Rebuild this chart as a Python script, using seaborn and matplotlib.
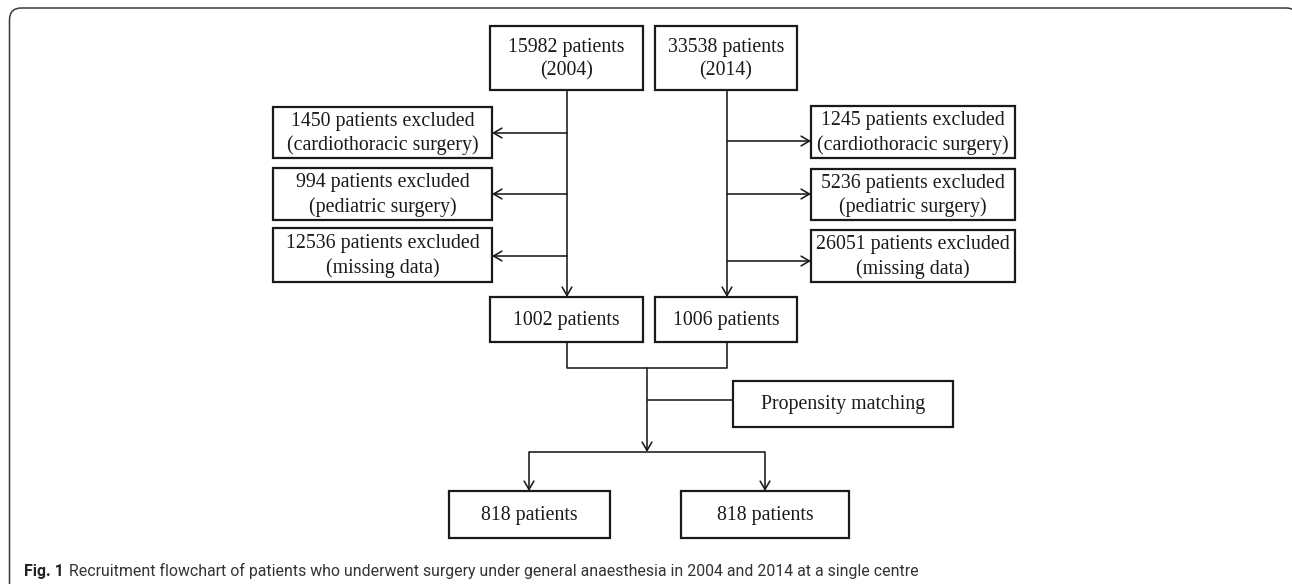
import matplotlib
matplotlib.use("Agg")
import matplotlib.pyplot as plt
import seaborn as sns
from matplotlib.patches import Rectangle, FancyArrowPatch, PathPatch
from matplotlib.path import Path

sns.set_theme(style="white")
plt.rcParams['font.family'] = ['Liberation Serif', 'DejaVu Serif']

# ---- data ----
start_counts = [15982, 33538]
start_years = ["2004", "2014"]
excl_2004 = [1450, 994, 12536]
excl_2014 = [1245, 5236, 26051]
excl_reasons = ["cardiothoracic surgery", "pediatric surgery", "missing data"]
included = [1002, 1006]
matched = [818, 818]
match_label = "Propensity matching"
caption_bold = "Fig. 1"
caption_text = ("Recruitment flowchart of patients who underwent surgery under general "
                "anaesthesia in 2004 and 2014 at a single centre")

W, H = 1292, 584
fig = plt.figure(figsize=(W / 100, H / 100), dpi=100)
ax = fig.add_axes([0, 0, 1, 1])
ax.set_xlim(0, W)
ax.set_ylim(H, 0)
ax.axis("off")

FS = 14.3
BOX_LW = 1.6
LINE_LW = 1.15
INK = "#1a1a1a"


def box(x0, y0, x1, y1, text):
    ax.add_patch(Rectangle((x0, y0), x1 - x0, y1 - y0, fill=False,
                           edgecolor=INK, lw=BOX_LW))
    ax.text((x0 + x1) / 2, (y0 + y1) / 2 + 1, text, ha="center", va="center",
            fontsize=FS, color=INK, linespacing=1.32)


def line(xs, ys):
    ax.plot(xs, ys, color=INK, lw=LINE_LW, solid_capstyle="butt")


def arrow(x0, y0, x1, y1):
    ax.add_patch(FancyArrowPatch((x0, y0), (x1, y1),
                                 arrowstyle="->,head_length=0.6,head_width=0.35",
                                 mutation_scale=10, shrinkA=0, shrinkB=0,
                                 color=INK, lw=LINE_LW))


# outer rounded frame (cut by the image edges, as in the reference)
L, T, R, B, RAD = 9.5, 8.0, 1298.0, 600.0, 12.0
verts = [(L, B), (L, T + RAD), (L, T), (L + RAD, T), (R - RAD, T), (R, T), (R, T + RAD), (R, B)]
codes = [Path.MOVETO, Path.LINETO, Path.CURVE3, Path.CURVE3, Path.LINETO,
         Path.CURVE3, Path.CURVE3, Path.LINETO]
ax.add_patch(PathPatch(Path(verts, codes), fill=False, edgecolor="#3a3a3a",
                       lw=1.1, clip_on=True))

# top boxes
top_boxes = [(490, 26, 643, 90), (655, 26, 797, 90)]
for (x0, y0, x1, y1), n, yr in zip(top_boxes, start_counts, start_years):
    box(x0, y0, x1, y1, f"{n} patients\n({yr})")

# exclusion boxes
left_y = [(107, 158), (168, 220), (228, 282)]
left_arrow_y = [133, 194, 256]
right_y = [(106, 158), (169, 220), (230, 282)]
right_arrow_y = [141, 194, 261]
for (y0, y1), ay, n, r in zip(left_y, left_arrow_y, excl_2004, excl_reasons):
    box(273, y0, 492, y1, f"{n} patients excluded\n({r})")
    arrow(567, ay, 492, ay)
for (y0, y1), ay, n, r in zip(right_y, right_arrow_y, excl_2014, excl_reasons):
    box(811, y0, 1015, y1, f"{n} patients excluded\n({r})")
    arrow(727, ay, 811, ay)

# main verticals
arrow(567, 90, 567, 297)
arrow(727, 90, 727, 297)

# included boxes
mid_boxes = [(490, 297, 643, 342), (655, 297, 797, 342)]
for (x0, y0, x1, y1), n in zip(mid_boxes, included):
    box(x0, y0, x1, y1, f"{n} patients")

# merge connector
line([567, 567, 727, 727], [342, 368, 368, 342])
arrow(647, 368, 647, 452)
line([647, 733], [400, 400])
box(733, 381, 953, 427, match_label)

# split
line([529, 765], [452, 452])
arrow(529, 452, 529, 491)
arrow(765, 452, 765, 491)
bottom_boxes = [(449, 491, 610, 538), (681, 491, 849, 538)]
for (x0, y0, x1, y1), n in zip(bottom_boxes, matched):
    box(x0, y0, x1, y1, f"{n} patients")

# caption
cap_family = ["Roboto", "DejaVu Sans"]
cap_fs = 12.0
cap_x0, cap_x1, cap_y = 24, 912, 576
fig.canvas.draw()
r = fig.canvas.get_renderer()
t1 = ax.text(cap_x0, cap_y, caption_bold, fontsize=cap_fs, fontweight="bold",
             family=cap_family, color="#222222", va="baseline", ha="left")
bb = t1.get_window_extent(renderer=r)
t2 = fig.text((bb.x1 + 5) / W, 1 - cap_y / H, caption_text, fontsize=cap_fs,
              family=cap_family, color="#333333", va="baseline", ha="left")
bb2 = t2.get_window_extent(renderer=r)
scale = (cap_x1 - cap_x0) / (bb2.x1 - cap_x0)
cap_fs2 = cap_fs * scale
t1.set_fontsize(cap_fs2)
fig.canvas.draw()
bb = t1.get_window_extent(renderer=r)
t2.set_fontsize(cap_fs2)
t2.set_position(((bb.x1 + 5) / W, 1 - cap_y / H))

fig.savefig("out.png", dpi=100)
